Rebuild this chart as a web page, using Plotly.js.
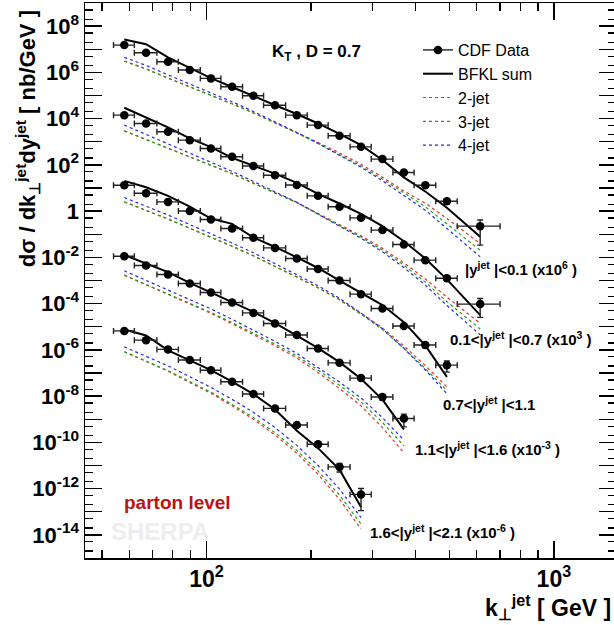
<!DOCTYPE html>
<html>
<head>
<meta charset="utf-8">
<script src="https://cdn.plot.ly/plotly-3.0.1.min.js"></script>
<style>
html,body{margin:0;padding:0;background:#fff;overflow:hidden;}
#chart{width:616px;height:625px;}
</style>
</head>
<body>
<div id="chart"></div>
<script>
// ---- bins (GeV) ----
const KT_CENTERS = [58, 67, 77.5, 89.5, 103, 118.5, 136.5, 157.5, 182, 209.5, 241.5, 278.5, 321, 370, 426.5, 492, 613.5];
const KT_EDGES = [54, 62, 72, 83, 96, 110, 127, 146, 169, 195, 224, 259, 298, 344, 396, 457, 527, 700];

// ---- |y|<0.1 (x10^6) ----
const cdf1 = [1.51e7, 7.08e6, 2.88e6, 1.26e6, 5.50e5, 2.40e5, 9.77e4, 3.80e4, 1.41e4, 5.25e3, 1.82e3, 603, 178, 46.8, 13.2, 2.69, 0.224];
const cdf1Err = [0, 0, 0, 0, 0, 0, 0, 0, 0, 0, 0, 0, 15, 4, 1.5, 0.6, 0.19];
const bfkl1 = [2.63e7, 1.66e7, 4.47e6, 1.51e6, 5.62e5, 2.34e5, 9.12e4, 3.80e4, 1.58e4, 6.17e3, 2.19e3, 708, 162, 28.8, 7.08, 1.41, 0.0776];
const jet2_1 = [3.09e6, 1.41e6, 5.62e5, 2.40e5, 1.02e5, 4.37e4, 1.78e4, 6.76e3, 2.51e3, 933, 324, 107, 29.5, 7.41, 2.19, 0.479, 0.0398];
const jet3_1 = [3.09e6, 1.41e6, 5.62e5, 2.40e5, 1.02e5, 4.37e4, 1.74e4, 6.61e3, 2.40e3, 851, 282, 89.1, 24.5, 6.03, 1.55, 0.282, 0.0204];
const jet4_1 = [4.47e6, 2.00e6, 7.76e5, 3.16e5, 1.32e5, 5.37e4, 2.04e4, 7.41e3, 2.51e3, 851, 269, 79.4, 20.4, 4.68, 1.10, 0.178, 0.0105];

// ---- 0.1<|y|<0.7 (x10^3) ----
const cdf2 = [1.41e4, 6.17e3, 2.69e3, 1.17e3, 513, 224, 89.1, 35.5, 13.5, 4.57, 1.55, 0.513, 0.151, 0.0363, 7.59e-3, 1.26e-3, 9.55e-5];
const cdf2Err = [0, 0, 0, 0, 0, 0, 0, 0, 0, 0, 0, 0, 0.012, 0.004, 1.0e-3, 3.0e-4, 7e-5];
const bfkl2 = [2.95e4, 1.10e4, 4.17e3, 1.41e3, 589, 200, 93.3, 41.7, 16.6, 5.62, 2.14, 0.759, 0.224, 0.0501, 8.91e-3, 1.12e-3, 3.16e-5];
const jet2_2 = [2.95e3, 1.26e3, 537, 229, 97.7, 41.7, 16.2, 6.31, 2.40, 0.794, 0.263, 0.0851, 0.0245, 5.75e-3, 1.17e-3, 1.91e-4, 1.41e-5];
const jet3_2 = [2.95e3, 1.26e3, 537, 229, 97.7, 41.7, 15.8, 6.17, 2.29, 0.741, 0.240, 0.0759, 0.0209, 4.57e-3, 8.51e-4, 1.23e-4, 7.94e-6];
const jet4_2 = [5.25e3, 2.09e3, 832, 331, 132, 52.5, 19.1, 6.92, 2.40, 0.741, 0.229, 0.0676, 0.0174, 3.63e-3, 6.31e-4, 8.32e-5, 4.47e-6];

// ---- 0.7<|y|<1.1 ----
const cdf3 = [13.2, 5.89, 2.51, 1.02, 0.437, 0.178, 0.0708, 0.0257, 8.91e-3, 3.16e-3, 1.00e-3, 2.57e-4, 6.17e-5, 1.07e-5, 1.62e-6, 2.19e-7];
const cdf3Err = [0, 0, 0, 0, 0, 0, 0, 0, 0, 0, 0, 2.5e-5, 7e-6, 1.5e-6, 4e-7, 1.1e-7];
const bfkl3 = [20.4, 10.7, 4.57, 1.58, 0.479, 0.282, 0.0724, 0.0282, 0.0100, 3.47e-3, 9.77e-4, 2.82e-4, 8.71e-5, 1.58e-5, 1.55e-6, 6.76e-8];
const jet2_3 = [2.51, 1.10, 0.457, 0.182, 0.0759, 0.0302, 0.0117, 4.17e-3, 1.41e-3, 4.90e-4, 1.51e-4, 3.80e-5, 8.91e-6, 1.48e-6, 2.09e-7, 2.51e-8];
const jet3_3 = [2.51, 1.10, 0.457, 0.182, 0.0759, 0.0302, 0.0117, 4.17e-3, 1.41e-3, 4.79e-4, 1.45e-4, 3.47e-5, 7.59e-6, 1.17e-6, 1.55e-7, 1.78e-8];
const jet4_3 = [3.89, 1.66, 0.676, 0.263, 0.107, 0.0417, 0.0158, 5.50e-3, 1.78e-3, 5.89e-4, 1.70e-4, 3.89e-5, 8.13e-6, 1.17e-6, 1.35e-7, 1.26e-8];

// ---- 1.1<|y|<1.6 (x10^-3) ----
const cdf4 = [0.0112, 4.47e-3, 1.82e-3, 7.41e-4, 3.02e-4, 1.12e-4, 3.98e-5, 1.38e-5, 4.37e-6, 1.15e-6, 2.75e-7, 6.03e-8, 9.12e-9, 1.07e-9];
const cdf4Err = [0, 0, 0, 0, 0, 0, 0, 0, 0, 1.5e-7, 4e-8, 1e-8, 2.5e-9, 6e-10];
const bfkl4 = [0.0126, 5.50e-3, 2.29e-3, 7.94e-4, 3.16e-4, 1.17e-4, 4.37e-5, 1.45e-5, 4.17e-6, 1.20e-6, 2.95e-7, 5.62e-8, 7.08e-9, 3.63e-10];
const jet2_4 = [1.70e-3, 6.46e-4, 2.51e-4, 9.77e-5, 3.80e-5, 1.35e-5, 4.57e-6, 1.51e-6, 4.47e-7, 1.05e-7, 2.14e-8, 3.80e-9, 4.37e-10, 3.55e-11];
const jet3_4 = [1.70e-3, 6.61e-4, 2.63e-4, 1.05e-4, 4.17e-5, 1.51e-5, 5.25e-6, 1.78e-6, 5.50e-7, 1.35e-7, 2.95e-8, 5.62e-9, 7.24e-10, 7.08e-11];
const jet4_4 = [2.63e-3, 1.00e-3, 3.89e-4, 1.51e-4, 5.89e-5, 2.09e-5, 7.08e-6, 2.34e-6, 7.08e-7, 1.78e-7, 4.07e-8, 8.32e-9, 1.17e-9, 1.26e-10];

// ---- 1.6<|y|<2.1 (x10^-6) ----
const cdf5 = [6.61e-6, 2.63e-6, 1.05e-6, 3.63e-7, 1.32e-7, 4.17e-8, 1.23e-8, 2.95e-9, 5.62e-10, 8.32e-11, 8.71e-12, 5.62e-13];
const cdf5Err = [0, 0, 0, 0, 0, 0, 0, 4e-10, 8e-11, 1.5e-11, 3.5e-12, 4.5e-13];
const bfkl5 = [7.59e-6, 4.17e-6, 9.55e-7, 3.63e-7, 1.32e-7, 4.27e-8, 1.23e-8, 2.63e-9, 3.16e-10, 5.62e-11, 6.61e-12, 1.62e-13];
const jet2_5 = [8.32e-7, 3.16e-7, 1.20e-7, 3.89e-8, 1.32e-8, 3.80e-9, 1.00e-9, 2.09e-10, 3.39e-11, 4.17e-12, 3.47e-13, 1.78e-14];
const jet3_5 = [8.32e-7, 3.24e-7, 1.26e-7, 4.27e-8, 1.48e-8, 4.37e-9, 1.20e-9, 2.63e-10, 4.47e-11, 5.75e-12, 5.25e-13, 2.95e-14];
const jet4_5 = [1.35e-6, 5.25e-7, 2.04e-7, 6.92e-8, 2.40e-8, 7.24e-9, 2.00e-9, 4.37e-10, 7.41e-11, 1.00e-11, 9.55e-13, 5.62e-14];

// ---- ticks ----
const X_TICKS = [100, 1000];
const X_TICKTEXT = ['10<sup>2</sup>', '10<sup>3</sup>'];
const X_MINOR = [50, 60, 70, 80, 90, 200, 300, 400, 500, 600, 700, 800, 900];
const Y_TICKS = [1e-14, 1e-12, 1e-10, 1e-8, 1e-6, 1e-4, 1e-2, 1, 100, 1e4, 1e6, 1e8];
const Y_TICKTEXT = ['10<sup>-14</sup>', '10<sup>-12</sup>', '10<sup>-10</sup>', '10<sup>-8</sup>', '10<sup>-6</sup>', '10<sup>-4</sup>', '10<sup>-2</sup>', '1', '10<sup>2</sup>', '10<sup>4</sup>', '10<sup>6</sup>', '10<sup>8</sup>'];
const Y_ODD_TICKS = [1e-13, 1e-11, 1e-9, 1e-7, 1e-5, 1e-3, 1e-1, 10, 1e3, 1e5, 1e7];
const Y_MINOR = [2e-15, 5e-15, 2e-14, 5e-14, 2e-13, 5e-13, 2e-12, 5e-12, 2e-11, 5e-11, 2e-10, 5e-10, 2e-9, 5e-9, 2e-8, 5e-8,
  2e-7, 5e-7, 2e-6, 5e-6, 2e-5, 5e-5, 2e-4, 5e-4, 2e-3, 5e-3, 0.02, 0.05, 0.2, 0.5, 2, 5, 20, 50, 200, 500,
  2e3, 5e3, 2e4, 5e4, 2e5, 5e5, 2e6, 5e6, 2e7, 5e7, 2e8, 5e8];

const SERIES = [
  {cdf: cdf1, err: cdf1Err, bfkl: bfkl1, j2: jet2_1, j3: jet3_1, j4: jet4_1},
  {cdf: cdf2, err: cdf2Err, bfkl: bfkl2, j2: jet2_2, j3: jet3_2, j4: jet4_2},
  {cdf: cdf3, err: cdf3Err, bfkl: bfkl3, j2: jet2_3, j3: jet3_3, j4: jet4_3},
  {cdf: cdf4, err: cdf4Err, bfkl: bfkl4, j2: jet2_4, j3: jet3_4, j4: jet4_4},
  {cdf: cdf5, err: cdf5Err, bfkl: bfkl5, j2: jet2_5, j3: jet3_5, j4: jet4_5}
];

const FONT = 'Liberation Sans, Arial, Helvetica, sans-serif';
const RED = 'rgb(235,45,45)', GREEN = 'rgb(30,160,30)', BLUE = 'rgb(40,40,235)';
const DASH = '3px,3px';

const traces = [];
SERIES.forEach((s, k) => {
  const n = s.cdf.length;
  const x = KT_CENTERS.slice(0, n);
  const first = (k === 0);
  traces.push({x: x, y: s.j2, type: 'scatter', mode: 'lines', name: '2-jet', legendrank: 3, showlegend: first,
    line: {color: RED, width: 1.2, dash: DASH}});
  traces.push({x: x, y: s.j3, type: 'scatter', mode: 'lines', name: '3-jet', legendrank: 4, showlegend: first,
    line: {color: GREEN, width: 1.2, dash: DASH}});
  traces.push({x: x, y: s.j4, type: 'scatter', mode: 'lines', name: '4-jet', legendrank: 5, showlegend: first,
    line: {color: BLUE, width: 1.2, dash: DASH}});
  traces.push({x: x, y: s.bfkl, type: 'scatter', mode: 'lines', name: 'BFKL sum', legendrank: 2, showlegend: first,
    line: {color: 'black', width: 2}});
});
SERIES.forEach((s) => {
  const n = s.cdf.length;
  const x = KT_CENTERS.slice(0, n);
  const plus = x.map((c, i) => KT_EDGES[i + 1] - c);
  const minus = x.map((c, i) => c - KT_EDGES[i]);
  traces.push({x: x, y: s.cdf, type: 'scatter', mode: 'markers', name: 'CDF Data', showlegend: false,
    marker: {symbol: 'circle', size: 8.5, color: 'black'},
    error_x: {type: 'data', symmetric: false, array: plus, arrayminus: minus, color: '#222', thickness: 1.4, width: 3},
    error_y: {type: 'data', array: s.err, color: '#222', thickness: 1.4, width: 3}});
});
// legend entry for the data (draws no marks); lives on the overlay axis that carries the odd-decade ticks
traces.push({x: [null], y: [null], yaxis: 'y2', type: 'scatter', mode: 'lines+markers', name: 'CDF Data', legendrank: 1,
  marker: {symbol: 'circle', size: 8.5, color: 'black'}, line: {color: '#222', width: 1.4}});

const PLOT_W = 531;
const px = (p) => (p - 85) / PLOT_W;
const py = (p) => (558 - p) / 555;
const lab = {family: FONT, size: 15, color: 'black', weight: 'bold'};

const layout = {
  width: 616, height: 625,
  margin: {l: 85, r: 0, t: 3, b: 67},
  paper_bgcolor: 'white', plot_bgcolor: 'white',
  hovermode: false,
  showlegend: true,
  legend: {x: px(418), y: py(33), xanchor: 'left', yanchor: 'top', bgcolor: 'rgba(0,0,0,0)',
    font: {family: FONT, size: 16, color: 'black'}, itemwidth: 30, tracegroupgap: 0},
  xaxis: {type: 'log', range: [1.6503, 3.1788], showline: true, linecolor: 'black', linewidth: 1.5, mirror: 'ticks',
    ticks: 'inside', ticklen: 17, tickwidth: 1.3, tickcolor: 'black', tickmode: 'array',
    tickvals: X_TICKS, ticktext: X_TICKTEXT, showgrid: false, zeroline: false,
    tickfont: {family: FONT, size: 23, color: 'black', weight: 'bold'},
    minor: {tickmode: 'array', tickvals: X_MINOR, ticks: 'inside', ticklen: 8, tickwidth: 1.3, tickcolor: 'black', showgrid: false}},
  yaxis: {type: 'log', range: [-15, 9], showline: true, linecolor: 'black', linewidth: 1.5, mirror: 'ticks',
    ticks: 'inside', ticklen: 17, tickwidth: 1.3, tickcolor: 'black', tickmode: 'array',
    tickvals: Y_TICKS, ticktext: Y_TICKTEXT, showgrid: false, zeroline: false,
    tickfont: {family: FONT, size: 22, color: 'black', weight: 'bold'},
    minor: {tickmode: 'array', tickvals: Y_MINOR, ticks: 'inside', ticklen: 8, tickwidth: 1.3, tickcolor: 'black', showgrid: false}},
  yaxis2: {type: 'log', range: [-15, 9], overlaying: 'y', anchor: 'x', side: 'left', showline: false, mirror: 'ticks',
    ticks: 'inside', ticklen: 17, tickwidth: 1.3, tickcolor: 'black', tickmode: 'array',
    tickvals: Y_ODD_TICKS, showticklabels: false, showgrid: false, zeroline: false},
  annotations: [
    {xref: 'paper', yref: 'paper', x: -0.108, y: py(8), xanchor: 'center', yanchor: 'top', textangle: -90, showarrow: false,
      text: 'dσ / dk<sub>⊥</sub><sup>jet</sup>dy<sup>jet</sup> [ nb/GeV ]', font: {family: FONT, size: 22, color: 'black', weight: 'bold'}},
    {xref: 'paper', yref: 'paper', x: px(613), y: py(607), xanchor: 'right', yanchor: 'middle', showarrow: false,
      text: 'k<sub>⊥</sub><sup>jet</sup> [ GeV ]', font: {family: FONT, size: 23, color: 'black', weight: 'bold'}},
    {xref: 'paper', yref: 'paper', x: px(270), y: py(53), xanchor: 'left', yanchor: 'middle', showarrow: false,
      text: 'K<sub>T</sub> , D = 0.7', font: {family: FONT, size: 17, color: 'black', weight: 'bold'}},
    {xref: 'paper', yref: 'paper', x: px(463), y: py(268), xanchor: 'left', yanchor: 'middle', showarrow: false,
      text: '|y<sup>jet</sup> |<0.1 (x10<sup>6</sup> )', font: lab},
    {xref: 'paper', yref: 'paper', x: px(448), y: py(338), xanchor: 'left', yanchor: 'middle', showarrow: false,
      text: '0.1<|y<sup>jet</sup> |<0.7 (x10<sup>3</sup> )', font: lab},
    {xref: 'paper', yref: 'paper', x: px(441), y: py(403), xanchor: 'left', yanchor: 'middle', showarrow: false,
      text: '0.7<|y<sup>jet</sup> |<1.1', font: lab},
    {xref: 'paper', yref: 'paper', x: px(413), y: py(448), xanchor: 'left', yanchor: 'middle', showarrow: false,
      text: '1.1<|y<sup>jet</sup> |<1.6 (x10<sup>-3</sup> )', font: lab},
    {xref: 'paper', yref: 'paper', x: px(368), y: py(531), xanchor: 'left', yanchor: 'middle', showarrow: false,
      text: '1.6<|y<sup>jet</sup> |<2.1 (x10<sup>-6</sup> )', font: lab},
    {xref: 'paper', yref: 'paper', x: px(122), y: py(502), xanchor: 'left', yanchor: 'middle', showarrow: false,
      text: 'parton level', font: {family: FONT, size: 19, color: 'rgb(192,16,16)', weight: 'bold'}},
    {xref: 'paper', yref: 'paper', x: px(109), y: py(531), xanchor: 'left', yanchor: 'middle', showarrow: false,
      text: 'SHERPA', font: {family: FONT, size: 24, color: 'rgb(238,238,238)', weight: 'bold'}}
  ]
};

Plotly.newPlot('chart', traces, layout, {displayModeBar: false, staticPlot: true});
</script>
</body>
</html>
